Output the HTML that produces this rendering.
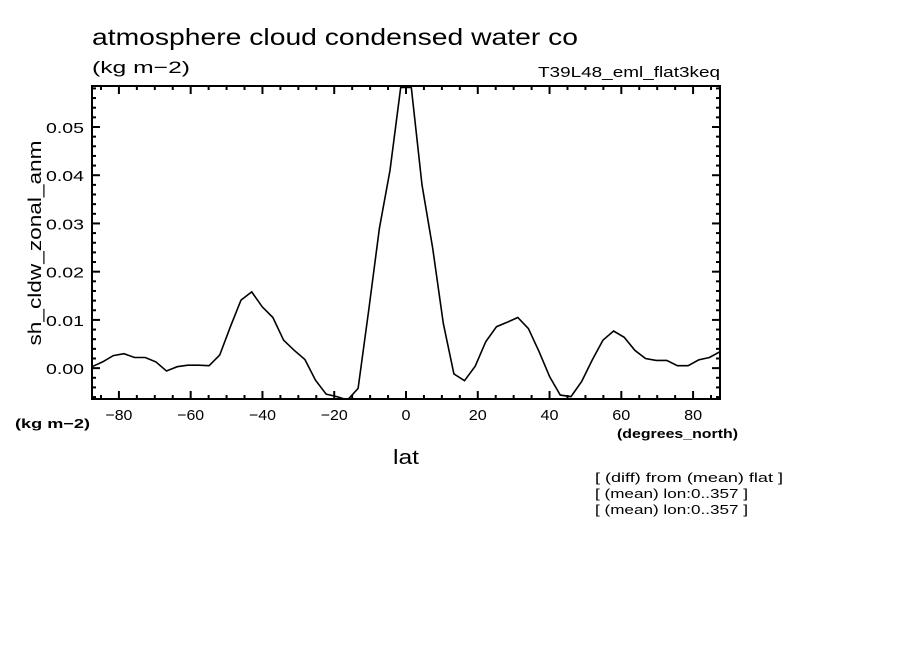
<!DOCTYPE html>
<html><head><meta charset="utf-8"><style>
html,body{margin:0;padding:0;background:#fff;}
svg{display:block;font-family:"Liberation Sans",sans-serif;}
</style></head><body>
<svg id="chart" width="904" height="654" viewBox="0 0 904 654">
<text x="92" y="45" font-size="23" textLength="486" lengthAdjust="spacingAndGlyphs">atmosphere cloud condensed water co</text>
<text x="92" y="73" font-size="17" textLength="98" lengthAdjust="spacingAndGlyphs">(kg m−2)</text>
<text x="538" y="77" font-size="15" textLength="182" lengthAdjust="spacingAndGlyphs">T39L48_eml_flat3keq</text>
<text transform="translate(41,243) rotate(-90)" font-size="18" text-anchor="middle" textLength="205" lengthAdjust="spacingAndGlyphs">sh_cldw_zonal_anm</text>
<text x="15" y="428" font-size="13" font-weight="bold" textLength="75" lengthAdjust="spacingAndGlyphs">(kg m−2)</text>
<text x="617" y="438" font-size="13" font-weight="bold" textLength="121" lengthAdjust="spacingAndGlyphs">(degrees_north)</text>
<text x="393" y="464" font-size="20" textLength="26" lengthAdjust="spacingAndGlyphs">lat</text>
<text x="595" y="482" font-size="13" textLength="188" lengthAdjust="spacingAndGlyphs">[ (diff) from (mean) flat ]</text>
<text x="595" y="498" font-size="13" textLength="153" lengthAdjust="spacingAndGlyphs">[ (mean) lon:0..357 ]</text>
<text x="595" y="514" font-size="13" textLength="153" lengthAdjust="spacingAndGlyphs">[ (mean) lon:0..357 ]</text>
<g id="ticks"></g>
<clipPath id="clip"><rect x="92" y="86" width="628" height="313"/></clipPath>
<path id="series" fill="none" stroke="#000" stroke-width="1.6" clip-path="url(#clip)"/>
<rect x="92" y="86" width="628" height="313" fill="none" stroke="#000" stroke-width="2"/>
</svg>
<script>
const values = [0.0003,0.0013,0.0026,0.0030,0.0022,0.0022,0.0013,-0.0006,0.0003,0.0006,
0.0006,0.0005,0.0027,0.0086,0.0141,0.0158,0.0127,0.0105,0.0058,0.0037,
0.0018,-0.0025,-0.0054,-0.0059,-0.0066,-0.0042,0.012,0.029,0.041,0.0582,
0.0582,0.038,0.025,0.0093,-0.0012,-0.0026,0.0004,0.0055,0.0086,0.0095,
0.0105,0.0082,0.0034,-0.0018,-0.0056,-0.0059,-0.0028,0.0017,0.0058,0.0077,
0.0064,0.0037,0.0020,0.0016,0.0016,0.0005,0.0005,0.0017,0.0022,0.0034];
const latStart = -87.5, latEnd = 87.5;
const xTicks = [-80,-60,-40,-20,0,20,40,60,80];
const yTicks = [0.00,0.01,0.02,0.03,0.04,0.05];
const yTickLabels = ["0.00","0.01","0.02","0.03","0.04","0.05"];

const X0=92,X1=720,Y0=86,Y1=399;
const xMin=-87.5,xMax=87.5,yMin=-0.0064,yMax=0.0585;
const sx=v=>X0+(v-xMin)/(xMax-xMin)*(X1-X0);
const sy=v=>Y1-(v-yMin)/(yMax-yMin)*(Y1-Y0);
const NS="http://www.w3.org/2000/svg";
const n=values.length;
let d="";
values.forEach((v,i)=>{const lat=latStart+(latEnd-latStart)*i/(n-1);d+=(i?"L":"M")+sx(lat).toFixed(1)+","+sy(v).toFixed(1);});
document.getElementById("series").setAttribute("d",d);
const g=document.getElementById("ticks");
function line(x1,y1,x2,y2,name){const l=document.createElementNS(NS,"line");
l.setAttribute("x1",x1);l.setAttribute("y1",y1);l.setAttribute("x2",x2);l.setAttribute("y2",y2);
l.setAttribute("stroke","#000");l.setAttribute("stroke-width","2");


g.appendChild(l);}
function text(x,y,s,anchor,name,len){const t=document.createElementNS(NS,"text");
t.setAttribute("x",x);t.setAttribute("y",y);t.setAttribute("font-size","15");t.setAttribute("text-anchor",anchor);t.textContent=s;
if(len){t.setAttribute("textLength",len);t.setAttribute("lengthAdjust","spacingAndGlyphs");}


g.appendChild(t);}
for(let v=-85;v<=85;v+=5){const x=sx(v);const maj=v%20===0;const L=maj?8:4;
line(x,Y1,x,Y1-L,"x-tick");line(x,Y0,x,Y0+L,"x-tick-top");}
xTicks.forEach(v=>{const s=String(v).replace("-","−");const len=s.length*9;text(sx(v),420,s,"middle","x-tick-label",len);});
for(let k=-3;k<=29;k++){const v=k*0.002;if(v<yMin||v>yMax)continue;const y=sy(v);const maj=k%5===0;const L=maj?8:4;
line(X0,y,X0+L,y,"y-tick");line(X1,y,X1-L,y,"y-tick-right");}
yTicks.forEach((v,i)=>text(84,sy(v)+6,yTickLabels[i],"end","y-tick-label",38));
</script>
</body></html>
